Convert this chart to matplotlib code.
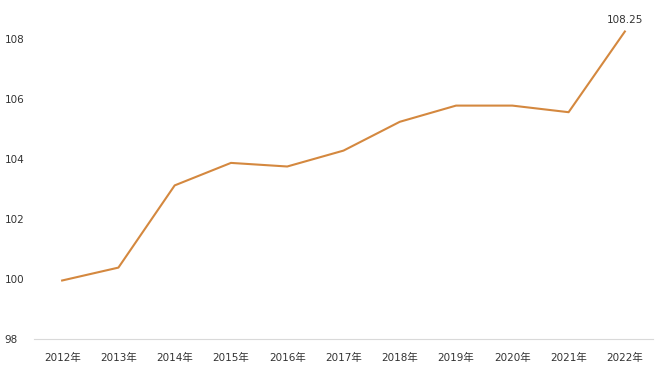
import matplotlib
matplotlib.use("Agg")
import matplotlib.pyplot as plt

plt.rcParams['font.family'] = ['DejaVu Sans', 'Noto Sans CJK SC']

years = ["2012年", "2013年", "2014年", "2015年", "2016年", "2017年",
         "2018年", "2019年", "2020年", "2021年", "2022年"]
values = [99.95, 100.38, 103.12, 103.87, 103.75, 104.28,
          105.24, 105.78, 105.78, 105.56, 108.25]
yticks = [98, 100, 102, 104, 106, 108]

fig = plt.figure(figsize=(6.6, 3.71), dpi=100)
ax = fig.add_axes([34/660, 32/371, (653-34)/660, 339/371])
x = list(range(len(years)))
ax.plot(x, values, color="#D4883F", linewidth=1.5)
ax.set_xlim(-0.5, len(years) - 0.5)
ax.set_ylim(98, 109.3)
ax.set_xticks(x)
ax.set_xticklabels(years, fontsize=7.5, color="#333333")
ax.set_yticks(yticks)
ax.set_yticklabels([str(v) for v in yticks], fontsize=7.5, color="#333333")
for lab in ax.get_yticklabels():
    lab.set_horizontalalignment("left")
for s in ["top", "right", "left"]:
    ax.spines[s].set_visible(False)
ax.spines["bottom"].set_color("#d9d9d9")
ax.tick_params(axis="x", length=0, pad=10)
ax.tick_params(axis="y", length=0, pad=21)
ax.annotate(f"{values[-1]:.2f}", (x[-1], values[-1]), xytext=(0, 5),
            textcoords="offset points", ha="center", va="bottom",
            fontsize=7.5, color="#333333")
fig.savefig("out.png", dpi=100, facecolor="white")
